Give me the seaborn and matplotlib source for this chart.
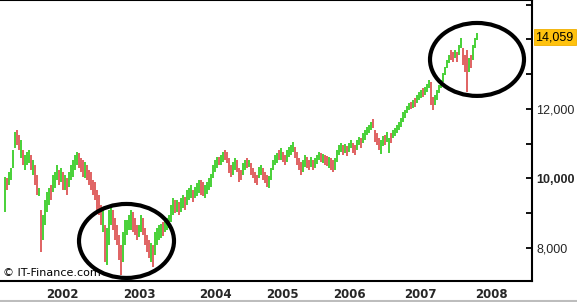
import numpy as np
import pandas as pd
import matplotlib
matplotlib.use("Agg")
import matplotlib.pyplot as plt
import matplotlib.transforms as mtransforms
from matplotlib.patches import Ellipse
from matplotlib.lines import Line2D
import seaborn as sns

# ---------------- data (weekly bars, Dow Jones, 2001 -> Oct 2007) ----------------
high = [
    10040, 10010, 10180, 10300, 10810, 11330, 11390, 11250, 11100, 10810,
    10670, 10760, 10810, 10670, 10530, 10380, 10090, 9720, 9090, 8940,
    9380, 9610, 9720, 9810, 10090, 10180, 10380, 10240, 10300,
    10180, 10090, 10010, 10180, 10380, 10530, 10670, 10760, 10730, 10580,
    10530, 10470, 10380, 10240, 10180, 9950, 9890, 9660, 9520, 9230,
    9090, 8660, 8570,
    9090, 9230, 9090, 8860, 8660, 8370, 8080, 8450, 8800, 8800, 8940, 9090, 9030, 8860, 8660, 8660,
    8940, 8860, 8570, 8370, 8220, 8140, 8080, 8450, 8570, 8660, 8680, 8740, 8800, 8860, 8940, 9230, 9430,
    9380, 9380, 9320, 9430, 9520, 9460, 9660, 9720, 9810, 9660, 9750, 9860, 9950, 9950, 9890, 9810, 9890, 10010, 10120, 10380,
    10530, 10610, 10610, 10670, 10760, 10810, 10760, 10580, 10380, 10470, 10580, 10530, 10300, 10240, 10440, 10530, 10580,
    10530, 10440, 10300, 10180, 10090, 10330, 10380, 10300, 10180, 10090, 10070, 10300, 10530, 10670, 10730, 10810, 10870,
    10760, 10670, 10810, 10900, 10960, 11040, 10900, 10760, 10580, 10470, 10530, 10670, 10610, 10530, 10610, 10530, 10580,
    10670, 10760, 10730, 10700, 10670, 10640, 10610, 10580, 10530, 10580, 10810, 10960, 11020, 10960, 10990, 10930, 11020,
    11100, 11020, 10960, 11100, 11190, 11160, 11300, 11390, 11480, 11530, 11620, 11710, 11390, 11300, 11160, 11100, 11220,
    11250, 11330, 11160, 11300, 11390, 11450, 11530, 11620, 11740, 11910, 11970, 12080, 12170, 12200, 12250, 12310, 12400, 12480,
    12540, 12600, 12630, 12710, 12830, 12770, 12340, 12400, 12540, 12690, 12830, 13030, 13200, 13400, 13550, 13690, 13630,
    13690, 13630, 13840, 14040, 13750, 13550, 13690, 13460, 13550, 13840, 14040, 14180,
]
low = [
    9030, 9660, 9810, 9950, 10300, 10870, 10960, 10810, 10580, 10380,
    10240, 10380, 10440, 10240, 10090, 9810, 9520, 9490, 7880, 8220,
    8660, 9030, 9230, 9380, 9610, 9720, 9950, 9810, 9890,
    9660, 9660, 9520, 9750, 9950, 10040, 10240, 10380, 10300, 10180,
    10040, 10010, 9950, 9810, 9660, 9520, 9380, 9090, 8940, 8660,
    8450, 7590, 7500,
    8080, 8660, 8510, 8220, 8080, 7650, 7220, 7590, 8080, 8370, 8510, 8510, 8450, 8370, 8220, 8310,
    8450, 8370, 8080, 7880, 7710, 7590, 7450, 7790, 8080, 8220, 8280, 8340, 8450, 8510, 8570, 8740, 8940,
    9000, 9030, 8940, 9030, 9150, 9090, 9230, 9380, 9430, 9320, 9430, 9490, 9580, 9520, 9490, 9430, 9550, 9660, 9750, 10010,
    10180, 10300, 10380, 10380, 10470, 10530, 10440, 10150, 10040, 10090, 10240, 10180, 9890, 9950, 10090, 10240, 10300,
    10330, 10090, 10010, 9860, 9810, 10010, 10090, 9950, 9860, 9750, 9720, 9950, 10240, 10380, 10440, 10530, 10530,
    10470, 10380, 10470, 10610, 10670, 10760, 10580, 10380, 10240, 10090, 10180, 10330, 10300, 10240, 10330, 10240, 10300,
    10410, 10530, 10470, 10440, 10380, 10350, 10300, 10240, 10180, 10240, 10470, 10670, 10760, 10670, 10730, 10640, 10760,
    10870, 10730, 10670, 10810, 10960, 10870, 11020, 11100, 11250, 11300, 11390, 11450, 11040, 10960, 10810, 10700, 10930,
    10960, 11040, 10730, 11020, 11160, 11220, 11300, 11390, 11480, 11620, 11740, 11880, 11970, 11990, 12020, 12050, 12170, 12250,
    12310, 12340, 12400, 12480, 12600, 12110, 11970, 12110, 12250, 12450, 12600, 12770, 12970, 13170, 13320, 13400, 13350,
    13460, 13350, 13550, 13750, 13260, 13060, 12480, 13060, 13170, 13400, 13750, 13980,
]
# g = up week (green), r = down week (red)
direction = (
    "grggggrrgrgggrgrrgrggggrgggrg"
    "rgrgggggrrrgrrrrrrrrgrg"
    "ggrrrrrgggggrrrg"
    "grrrrgrggggrggggg"
    "rgrggrgggrgggrrggggg"
    "ggrggrrrrggrrrggrgrrrrggrrrgggggrg"
    "rrggggrrrrggrrgrgggrgrrgrrggggrgrg"
    "grrggrgggggrrrrggrggrgggggggggrgrgg"
    "grgggrrggggggggrrgrggrrrgrggg"
)
year_labels = ["2002", "2003", "2004", "2005", "2006", "2007", "2008"]
year_start_bar = [28.5, 67, 105, 138.5, 172, 207.5, 243]
ytick_values = [8000, 10000, 12000, 14000]
ytick_labels = ["8,000", "10,000", "12,000", ""]   # 14,000 hidden under price tag
last_close = 14059

assert len(high) == len(low) == len(direction)

bars = np.arange(len(high))
df = pd.DataFrame({
    "bar": np.concatenate([bars, bars]),
    "value": np.concatenate([low, high]),
    "dir": list(direction) * 2,
})

# ---------------- figure ----------------
sns.set_style("white")
plt.rcParams["font.family"] = ["DejaVu Sans"]

W, H = 577, 302
fig = plt.figure(figsize=(W / 100, H / 100), dpi=100)
fig.patch.set_facecolor("white")
ax = fig.add_axes([0, 21 / H, 532 / W, 281 / H])

GREEN = "#4CD23C"
RED = "#E06666"
sns.lineplot(data=df, x="bar", y="value", units="bar", estimator=None,
             hue="dir", palette={"g": GREEN, "r": RED}, linewidth=1.44,
             legend=False, sort=False, ax=ax, solid_capstyle="butt",
             antialiased=False)

ax.set_xlim(-2.5, 263.5)
ax.set_ylim(7042, 15131)
ax.set_xlabel("")
ax.set_ylabel("")

ax.spines["left"].set_visible(False)
for s in ["right", "bottom", "top"]:
    ax.spines[s].set_visible(True)
    ax.spines[s].set_color("black")
    ax.spines[s].set_linewidth(1.5)

# y axis on the right, inward ticks every 1000, labels every 2000
ax.yaxis.tick_right()
ax.set_yticks(ytick_values)
ax.set_yticks([9000, 11000, 13000, 15000], minor=True)
ax.set_yticklabels(ytick_labels, family="Liberation Sans")
ax.tick_params(axis="y", which="both", direction="in", length=4, width=1.3,
               color="black", labelsize=9, pad=3, right=True, left=False)
for lab in ax.get_yticklabels():
    if lab.get_text() == "10,000":
        lab.set_fontweight("bold")

# x axis
ax.set_xticks(year_start_bar)
ax.set_xticklabels(year_labels, fontweight="bold")
ax.tick_params(axis="x", direction="out", length=3, width=1.3, color="black",
               labelsize=8.5, pad=2)
ax.grid(False)

# last price tag
trans = mtransforms.blended_transform_factory(ax.transAxes, ax.transData)
ax.text(1.0 + 3.5 / 532, last_close, f"{last_close:,}", transform=trans,
        ha="left", va="center", fontsize=9, color="black", clip_on=False,
        family="Liberation Sans",
        bbox=dict(boxstyle="square,pad=0.15", facecolor="#FFC20E",
                  edgecolor="#F0B000", linewidth=0.6))

# copyright
ax.text(3 / 532, 8 / 281, "© IT-Finance.com", transform=ax.transAxes,
        ha="left", va="center", fontsize=8, color="black")

# highlight ellipses
for cx, cy, w, h in [(236, 13420, 47, 2100), (60.75, 8195, 47.5, 2130)]:
    ax.add_patch(Ellipse((cx, cy), w, h, fill=False, edgecolor="black",
                         linewidth=3, clip_on=False, zorder=5))

fig.add_artist(Line2D([0, 1], [1 / H, 1 / H], color="#BDBDBD", linewidth=1.5))

fig.savefig("out.png", dpi=100, facecolor="white")
